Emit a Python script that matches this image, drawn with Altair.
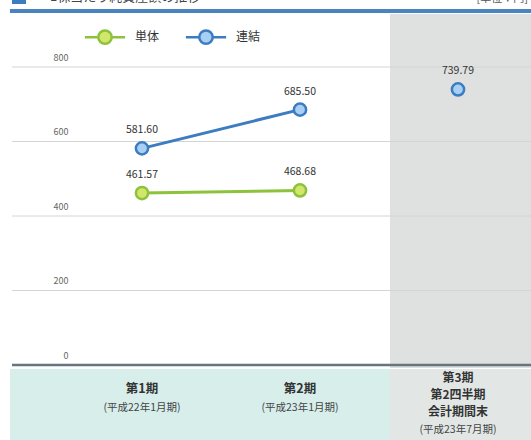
import altair as alt
import pandas as pd

# ---- data ----
periods = ["第1期", "第2期", "第3期"]
series_names = ["単体", "連結"]
tantai = [461.57, 468.68, None]
renketsu = [581.60, 685.50, 739.79]
y_ticks = [0, 200, 400, 600, 800]
main_labels = [["第1期"], ["第2期"], ["第3期", "第2四半期", "会計期間末"]]
sub_labels = ["(平成22年1月期)", "(平成23年1月期)", "(平成23年7月期)"]
title_text = "1株当たり純資産額の推移"
unit_text = "[単位：円]"

FONT = "Noto Sans CJK JP"

rows = []
for i, p in enumerate(periods):
    for s, vals in zip(series_names, [tantai, renketsu]):
        if vals[i] is not None:
            rows.append({"period": p, "series": s, "value": vals[i], "connected": i < 2})
df = pd.DataFrame(rows)

lab_df = pd.DataFrame({"period": periods, "main": main_labels, "sub": sub_labels,
                       "idx": list(range(len(periods)))})
grid_df = pd.DataFrame({"value": y_ticks})
one = pd.DataFrame({"a": [0]})

xscale = alt.Scale(type="point", domain=periods, range=[142, 458], padding=0)
yscale = alt.Scale(domain=[0, 800], range=[365, 67])
stroke_scale = alt.Scale(domain=series_names, range=["#8cc23c", "#3c7cc0"])
fill_scale = alt.Scale(domain=series_names, range=["#d2e66c", "#a8d0f4"])

y_axis = alt.Axis(values=y_ticks, grid=False, domain=False, ticks=False, tickSize=0,
                  labelPadding=-68, labelAlign="right", labelBaseline="alphabetic",
                  labelOffset=-7, labelFontSize=9, labelColor="#666666",
                  labelFont=FONT, title=None)

X = alt.X("period:N", scale=xscale, axis=None)
Y = alt.Y("value:Q", scale=yscale, axis=y_axis)

sym_path = "M-3,0L-1,0M1,0L3,0M1,0A1,1,0,1,1,-1,0A1,1,0,1,1,1,0"
leg = alt.Legend(title=None, orient="none", legendX=97, legendY=29, direction="horizontal",
                 symbolType=sym_path, symbolSize=180, symbolStrokeWidth=2.5,
                 labelFont=FONT, labelFontSize=12, labelColor="#333333",
                 labelOffset=22, columnPadding=20, padding=0)

# ---- background decorations ----
gray_bg = alt.Chart(one).mark_rect(color="#dfe1e1").encode(
    x=alt.value(390), x2=alt.value(531), y=alt.value(14), y2=alt.value(368))
band_left = alt.Chart(one).mark_rect(color="#d7eeeb").encode(
    x=alt.value(10), x2=alt.value(390), y=alt.value(369), y2=alt.value(440))
band_right = alt.Chart(one).mark_rect(color="#e2e7e6").encode(
    x=alt.value(390), x2=alt.value(531), y=alt.value(369), y2=alt.value(440))
header_line = alt.Chart(one).mark_rect(color="#4a84c0").encode(
    x=alt.value(10), x2=alt.value(531), y=alt.value(9), y2=alt.value(13))
header_icon = alt.Chart(one).mark_rect(color="#3c7cc0").encode(
    x=alt.value(12), x2=alt.value(26), y=alt.value(0), y2=alt.value(4))
title_mark = alt.Chart(one).mark_text(font=FONT, fontSize=13, align="left", baseline="bottom",
                                      color="#444444").encode(
    x=alt.value(50), y=alt.value(4), text=alt.value(title_text))
unit_mark = alt.Chart(one).mark_text(font=FONT, fontSize=11, align="right", baseline="bottom",
                                     color="#555555").encode(
    x=alt.value(528), y=alt.value(4), text=alt.value(unit_text))

# ---- grid and y axis ----
grid = alt.Chart(grid_df).mark_rule().encode(
    y=Y,
    x=alt.value(12), x2=alt.value(531),
    color=alt.condition("datum.value == 0", alt.value("#66767e"), alt.value("#d4d4d4")),
    strokeWidth=alt.condition("datum.value == 0", alt.value(2.5), alt.value(1)),
)

# ---- data marks ----
lines = alt.Chart(df).mark_line(strokeWidth=3).encode(
    x=X, y=Y, stroke=alt.Stroke("series:N", scale=stroke_scale, legend=leg),
    detail="series:N").transform_filter("datum.connected")
points = alt.Chart(df).mark_circle(size=150, strokeWidth=2.5, opacity=1).encode(
    x=X, y=Y,
    fill=alt.Fill("series:N", scale=fill_scale, legend=leg),
    stroke=alt.Stroke("series:N", scale=stroke_scale, legend=leg))
values = alt.Chart(df).mark_text(dy=-18, font=FONT, fontSize=10.5, color="#333333").encode(
    x=X, y=Y, text=alt.Text("value:Q", format=".2f"))

# ---- category labels ----
main12 = alt.Chart(lab_df).mark_text(font=FONT, fontSize=12.5, fontWeight="bold",
                                     color="#333333").encode(
    x=X, y=alt.value(389), text="main").transform_filter("datum.idx < 2")
sub12 = alt.Chart(lab_df).mark_text(font=FONT, fontSize=10.5, color="#444444").encode(
    x=X, y=alt.value(408), text="sub:N").transform_filter("datum.idx < 2")
main3 = alt.Chart(lab_df).mark_text(font=FONT, fontSize=12, fontWeight="bold",
                                    color="#333333", lineHeight=17, baseline="middle").encode(
    x=X, y=alt.value(378), text="main").transform_filter("datum.idx == 2")
sub3 = alt.Chart(lab_df).mark_text(font=FONT, fontSize=10.5, color="#444444").encode(
    x=X, y=alt.value(430), text="sub:N").transform_filter("datum.idx == 2")

chart = alt.layer(
    gray_bg, band_left, band_right, header_line, header_icon, title_mark, unit_mark,
    grid, lines, points, values, main12, sub12, main3, sub3
).properties(
    width=531, height=440, padding=0, autosize=alt.AutoSizeParams(type="none"),
    background="#ffffff"
).configure_view(stroke=None)

chart.save("out.html", embed_options={"renderer": "svg", "actions": False})
